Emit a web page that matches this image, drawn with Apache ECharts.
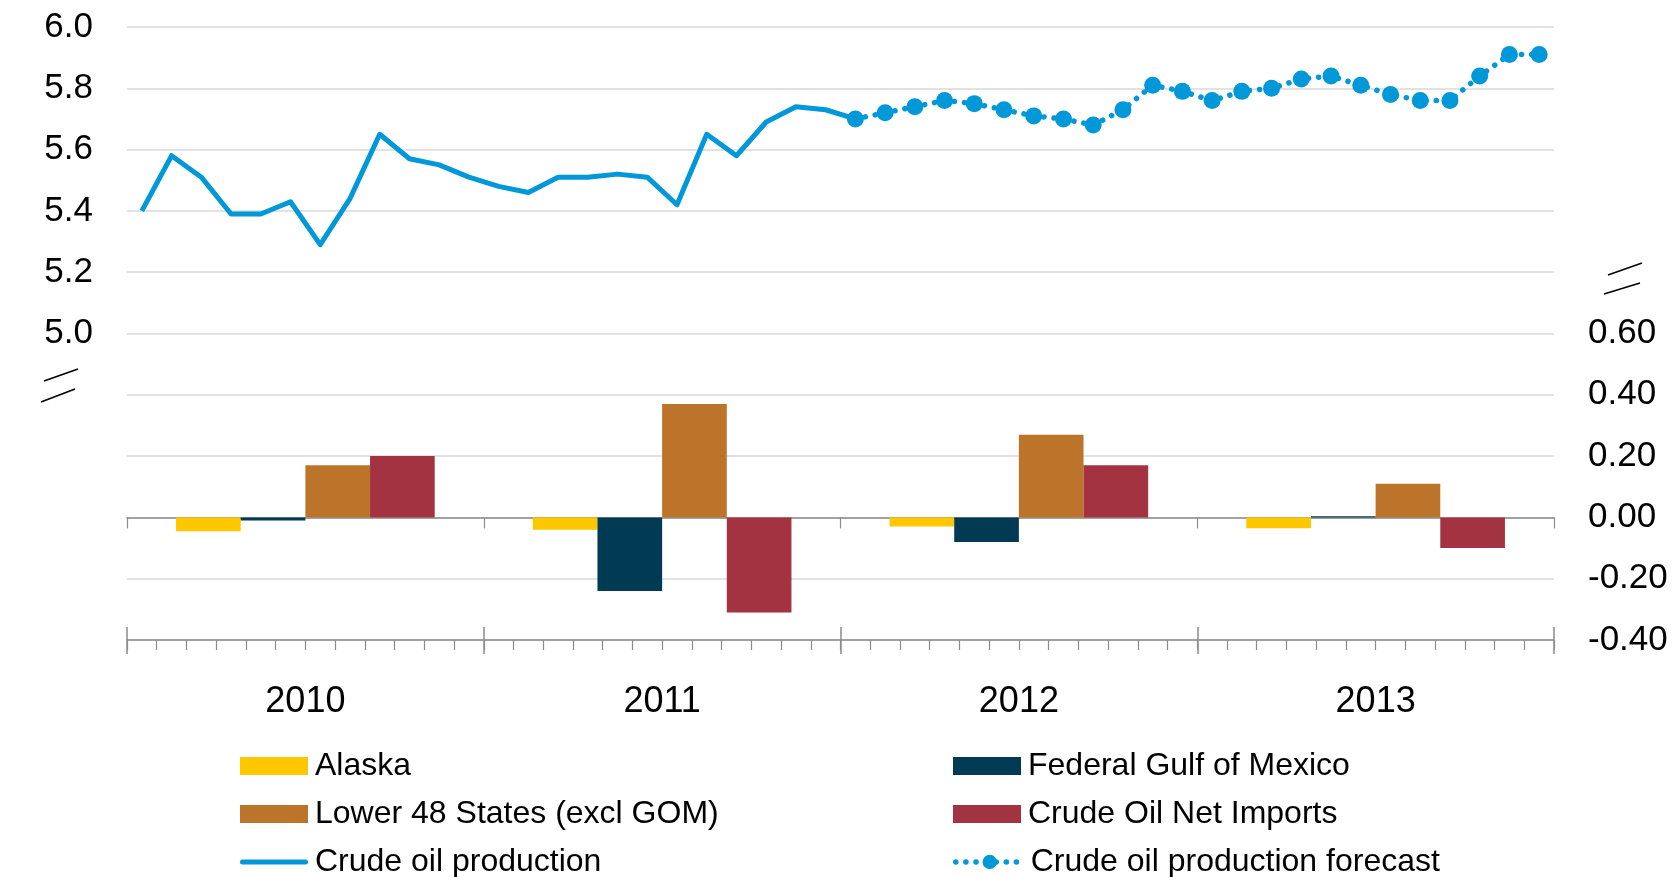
<!DOCTYPE html>
<html>
<head>
<meta charset="utf-8">
<title>Crude oil production and supply changes</title>
<script src="https://cdn.jsdelivr.net/npm/echarts@6/dist/echarts.min.js"></script>
<style>
    html, body { margin: 0; padding: 0; background: #fff; }
    #chart { width: 1677px; height: 877px; }
</style>
</head>
<body>
<div id="chart"></div>
<script>
// 年份和月份
const years = ['2010', '2011', '2012', '2013'];
const monthNames = ['Jan', 'Feb', 'Mar', 'Apr', 'May', 'Jun', 'Jul', 'Aug', 'Sep', 'Oct', 'Nov', 'Dec'];

// 月度原油产量 (Jan 2010 - Jan 2012)
const productionActual = [5.40, 5.58, 5.51, 5.39, 5.39, 5.43, 5.29, 5.44, 5.65, 5.57, 5.55, 5.51,
    5.48, 5.46, 5.51, 5.51, 5.52, 5.51, 5.42, 5.65, 5.58, 5.69, 5.74, 5.73, 5.70];
// 预测 (Jan 2012 - Dec 2013)
const productionForecast = [5.70, 5.72, 5.74, 5.76, 5.75, 5.73, 5.71, 5.70, 5.68, 5.73, 5.81, 5.79,
    5.76, 5.79, 5.80, 5.83, 5.84, 5.81, 5.78, 5.76, 5.76, 5.84, 5.91, 5.91];

// 年度变化 (柱状图)
const alaska = [-0.045, -0.04, -0.03, -0.035];
const gulfOfMexico = [-0.01, -0.24, -0.08, 0.004];
const lower48 = [0.17, 0.37, 0.27, 0.11];
const netImports = [0.20, -0.31, 0.17, -0.10];

// 坐标轴刻度
const leftTicks = { min: 4.0, max: 6.0, step: 0.2, shownFrom: 5.0 };
const rightTicks = { min: -0.4, max: 1.6, step: 0.2, shownTo: 0.6 };

const FONT = "'Liberation Sans', Arial, sans-serif";
const AXIS_GRAY = '#8c8c8c';
const BLUE = '#0098D8';

const months = [];
years.forEach(y => monthNames.forEach(m => months.push(m + ' ' + y)));

// 实际值和预测值分别补齐为 48 个月
const actualData = months.map((_, i) => i < productionActual.length ? productionActual[i] : null);
const forecastStart = months.length - productionForecast.length;
const forecastData = months.map((_, i) => i >= forecastStart ? productionForecast[i - forecastStart] : null);

const chart = echarts.init(document.getElementById('chart'));

const barSeries = (name, data, color) => ({
    name: name,
    type: 'bar',
    xAxisIndex: 0,
    yAxisIndex: 1,
    data: data,
    barGap: '0%',
    barCategoryGap: '27.5%',
    itemStyle: { color: color },
    z: 3
});

// 图例: 每项单独放置 (两列三行)
const legendItem = (left, top, item) => ({
    left: left,
    top: top,
    padding: 0,
    itemWidth: 68,
    itemHeight: 18,
    lineStyle: { width: 'inherit' },
    textStyle: { fontSize: 32, color: '#000', lineHeight: 30, fontFamily: FONT, padding: [0, 0, 0, 2] },
    data: [item]
});

const lineIcon = 'path://M2.5,0 L65.5,0 A2.5,2.5 0 0 1 65.5,5 L2.5,5 A2.5,2.5 0 0 1 2.5,0 Z';

const option = {
    animation: false,
    textStyle: { fontFamily: FONT },
    grid: { left: 127, right: 123, top: 27, bottom: 237, outerBoundsMode: 'none' },
    legend: [
        legendItem(240, 750, { name: 'Alaska', icon: 'rect' }),
        legendItem(240, 798, { name: 'Lower 48 States (excl GOM)', icon: 'rect' }),
        legendItem(240, 846, { name: 'Crude oil production', icon: lineIcon }),
        legendItem(953, 750, { name: 'Federal Gulf of Mexico', icon: 'rect' }),
        legendItem(953, 798, { name: 'Crude Oil Net Imports', icon: 'rect' }),
        legendItem(953, 846, { name: 'Crude oil production forecast' })
    ],
    xAxis: [
        // 底部年份标签和主刻度
        {
            type: 'category',
            data: years,
            position: 'bottom',
            axisLine: { onZero: false, lineStyle: { color: AXIS_GRAY, width: 1.5 } },
            axisTick: { show: true, interval: 0, length: 14, lineStyle: { color: AXIS_GRAY, width: 1.5 } },
            axisLabel: { fontSize: 36, color: '#000', margin: 44, fontFamily: FONT },
            splitLine: { show: false }
        },
        // 月度次刻度
        {
            type: 'category',
            data: months,
            position: 'bottom',
            axisLine: { show: false, onZero: false },
            axisTick: { show: true, interval: 0, length: 10, lineStyle: { color: AXIS_GRAY, width: 1.2 } },
            axisLabel: { show: false },
            splitLine: { show: false }
        },
        // 零线
        {
            type: 'category',
            data: years,
            position: 'bottom',
            axisLine: { onZero: true, onZeroAxisIndex: 1, lineStyle: { color: AXIS_GRAY, width: 1.5 } },
            axisTick: { show: true, interval: 0, length: 11, lineStyle: { color: AXIS_GRAY, width: 1.2 } },
            axisLabel: { show: false },
            splitLine: { show: false }
        },
        // 主刻度向上部分
        {
            type: 'category',
            data: years,
            position: 'bottom',
            axisLine: { show: false, onZero: false },
            axisTick: { show: true, inside: true, interval: 0, length: 13, lineStyle: { color: AXIS_GRAY, width: 1.5 } },
            axisLabel: { show: false },
            splitLine: { show: false }
        }
    ],
    yAxis: [
        {
            type: 'value',
            position: 'left',
            min: leftTicks.min,
            max: leftTicks.max,
            interval: leftTicks.step,
            axisLine: { show: false },
            axisTick: { show: false },
            axisLabel: {
                fontSize: 35,
                color: '#000',
                margin: 34,
                fontFamily: FONT,
                formatter: v => v >= leftTicks.shownFrom - 1e-6 ? v.toFixed(1) : ''
            },
            splitLine: { show: true, lineStyle: { color: '#d9d9d9', width: 1.6 } }
        },
        {
            type: 'value',
            position: 'right',
            min: rightTicks.min,
            max: rightTicks.max,
            interval: rightTicks.step,
            axisLine: { show: false },
            axisTick: { show: false },
            axisLabel: {
                fontSize: 35,
                color: '#000',
                margin: 34,
                fontFamily: FONT,
                formatter: v => {
                    if (v > rightTicks.shownTo + 1e-6) return '';
                    const r = Math.abs(v) < 1e-9 ? 0 : v;
                    return r.toFixed(2);
                }
            },
            splitLine: { show: false }
        }
    ],
    series: [
        barSeries('Alaska', alaska, '#FFC700'),
        barSeries('Federal Gulf of Mexico', gulfOfMexico, '#003A53'),
        barSeries('Lower 48 States (excl GOM)', lower48, '#BC742A'),
        barSeries('Crude Oil Net Imports', netImports, '#A43342'),
        {
            name: 'Crude oil production',
            type: 'line',
            xAxisIndex: 1,
            yAxisIndex: 0,
            data: actualData,
            symbol: 'none',
            lineStyle: { color: BLUE, width: 5, join: 'round' },
            itemStyle: { color: BLUE },
            z: 5
        },
        {
            name: 'Crude oil production forecast',
            type: 'line',
            xAxisIndex: 1,
            yAxisIndex: 0,
            data: forecastData,
            symbol: 'circle',
            symbolSize: 17,
            lineStyle: { color: BLUE, width: 5.5, type: [0.1, 10], cap: 'round' },
            itemStyle: { color: BLUE },
            z: 5
        }
    ],
    // 坐标轴断裂标记
    graphic: [
        { type: 'line', shape: { x1: 44, y1: 381, x2: 78, y2: 369 }, style: { stroke: '#000', lineWidth: 1.5 } },
        { type: 'line', shape: { x1: 41, y1: 402, x2: 75, y2: 389 }, style: { stroke: '#000', lineWidth: 1.5 } },
        { type: 'line', shape: { x1: 1608, y1: 275, x2: 1642, y2: 263 }, style: { stroke: '#000', lineWidth: 1.5 } },
        { type: 'line', shape: { x1: 1604, y1: 294, x2: 1640, y2: 283 }, style: { stroke: '#000', lineWidth: 1.5 } }
    ]
};

chart.setOption(option);
window.addEventListener('resize', () => chart.resize());
</script>
</body>
</html>
